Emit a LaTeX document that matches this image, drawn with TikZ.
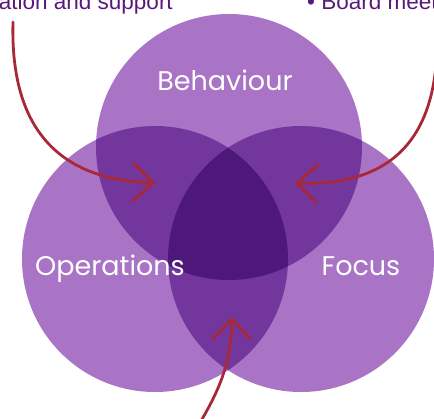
\documentclass[tikz,border=0pt]{standalone}
\usepackage{fontspec}
\setmainfont{Liberation Sans}
\newfontfamily\labelfont{Poppins}
\usetikzlibrary{arrows.meta}
\definecolor{light}{RGB}{169,116,197}
\definecolor{mid}{RGB}{115,54,156}
\definecolor{deep}{RGB}{78,24,122}
\definecolor{arrowred}{RGB}{168,40,56}
\definecolor{txtpurple}{RGB}{88,24,122}
\tikzset{
  conn/.style={draw=arrowred, line width=2.8pt, line cap=round,
    -{Straight Barb[length=20pt,width=38pt,line cap=round]}},
  label/.style={text=white, inner sep=0pt, anchor=base, font=\labelfont\fontsize{27}{32}\selectfont},
  toptext/.style={text=txtpurple, font=\fontsize{22.5}{26}\selectfont, inner sep=0pt},
}
\begin{document}
\begin{tikzpicture}[x=1pt,y=-1pt]
\useasboundingbox (0,0) rectangle (434,418);
\clip (0,0) rectangle (434,418);
\def\R{133pt}
\coordinate (ct) at (229,147);
\coordinate (cl) at (155,259);
\coordinate (cr) at (301,259);
% base circles
\fill[light] (ct) circle[radius=\R];
\fill[light] (cl) circle[radius=\R];
\fill[light] (cr) circle[radius=\R];
% pairwise overlaps
\begin{scope}\clip (ct) circle[radius=\R]; \fill[mid] (cl) circle[radius=\R]; \fill[mid] (cr) circle[radius=\R];\end{scope}
\begin{scope}\clip (cl) circle[radius=\R]; \fill[mid] (cr) circle[radius=\R];\end{scope}
% triple overlap
\begin{scope}\clip (ct) circle[radius=\R]; \clip (cl) circle[radius=\R]; \fill[deep] (cr) circle[radius=\R];\end{scope}
% labels
\node[label] (beh) at (225,90) {Behaviour};
\node[label] (ops) at (110,275) {Operations};
\node[label] (foc) at (361,275) {Focus};
% top texts
\node[toptext, anchor=base east] (t1) at (173,9) {ation and support};
\node[toptext, anchor=base west] (t2) at (307,9) {• Board meeti};
% arrows
\coordinate (s1) at (13,22);
\coordinate (e1) at (155,183);
\coordinate (s2) at (437,38);
\coordinate (e2) at (295,183);
\coordinate (s3) at (201,421);
\coordinate (e3) at (232,317);
\draw[conn] (s1) .. controls (10,130) and (60,180) .. (e1);
\draw[conn] (s2) .. controls (438,150) and (380,186) .. (e2);
\draw[conn] (s3) .. controls (222,385) and (231,360) .. (e3);
\end{tikzpicture}
\end{document}
